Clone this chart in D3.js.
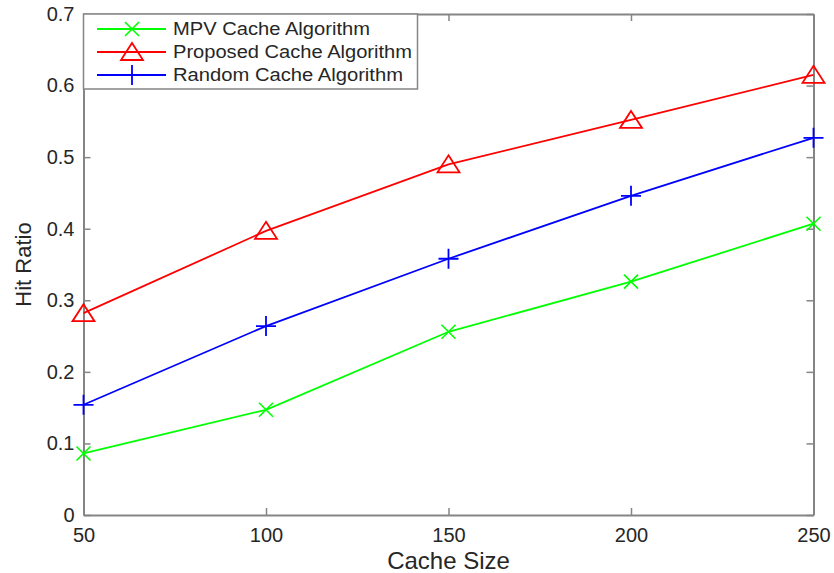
<!DOCTYPE html>
<html>
<head>
<meta charset="utf-8">
<script src="https://cdn.jsdelivr.net/npm/d3@7"></script>
<style>
  body { margin: 0; background: #fff; }
  text { font-family: "Liberation Sans", Arial, sans-serif; fill: #262626; }
</style>
</head>
<body>
<svg id="chart" width="834" height="573"></svg>
<script>
// data
var cacheSizes = [50, 100, 150, 200, 250];
var mpvHit = [0.086, 0.147, 0.256, 0.326, 0.407];
var proposedHit = [0.282, 0.397, 0.490, 0.552, 0.615];
var randomHit = [0.154, 0.264, 0.358, 0.446, 0.527];
var yTicks = [0, 0.1, 0.2, 0.3, 0.4, 0.5, 0.6, 0.7];
var seriesNames = ["MPV Cache Algorithm", "Proposed Cache Algorithm", "Random Cache Algorithm"];

var plotLeft = 83.5, plotRight = 813.5, plotTop = 14, plotBottom = 515;
var svg = d3.select("#chart");

var x = d3.scaleLinear().domain([50, 250]).range([plotLeft, plotRight]);
var y = d3.scaleLinear().domain([0, 0.7]).range([plotBottom, plotTop]);

var axisColor = "#858585";

// axes with inward ticks, mirrored on top/right
var gx = svg.append("g").attr("transform", "translate(0," + plotBottom + ")")
  .call(d3.axisBottom(x).tickValues(cacheSizes).tickSize(-7).tickSizeOuter(0));
var gxt = svg.append("g").attr("transform", "translate(0," + plotTop + ")")
  .call(d3.axisTop(x).tickValues(cacheSizes).tickSize(-7).tickFormat("").tickSizeOuter(0));
var gy = svg.append("g").attr("transform", "translate(" + plotLeft + ",0)")
  .call(d3.axisLeft(y).tickValues(yTicks).tickSize(-7).tickPadding(9).tickSizeOuter(0)
    .tickFormat(d => d === 0 ? "0" : d3.format(".1f")(d)));
var gyr = svg.append("g").attr("transform", "translate(" + plotRight + ",0)")
  .call(d3.axisRight(y).tickValues(yTicks).tickSize(-7).tickFormat("").tickSizeOuter(0));

[gx, gxt, gy, gyr].forEach(function (g) {
  g.select(".domain").attr("stroke", axisColor).attr("stroke-width", 2);
  g.selectAll(".tick line").attr("stroke", axisColor).attr("stroke-width", 1.5);
  g.selectAll(".tick text").attr("fill", "#262626")
    .style("font-family", '"Liberation Sans", Arial, sans-serif');
});
gy.selectAll(".tick text").style("font-size", "20px");
gx.selectAll(".tick text").style("font-size", "20px").attr("dy", "0.35em").attr("y", 20);

svg.append("text")
  .attr("x", (plotLeft + plotRight) / 2).attr("y", 569)
  .attr("text-anchor", "middle").style("font-size", "24px")
  .text("Cache Size");
svg.append("text")
  .attr("transform", "translate(31," + (plotTop + plotBottom) / 2 + ") rotate(-90)")
  .attr("text-anchor", "middle").style("font-size", "22px")
  .text("Hit Ratio");

var line = d3.line().x((d, i) => x(cacheSizes[i])).y(d => y(d));

function drawMarker(g, kind, cx, cy, color) {
  if (kind === "x") {
    g.append("path").attr("d", "M" + (cx - 7) + "," + (cy - 7) + "L" + (cx + 7) + "," + (cy + 7) +
      "M" + (cx - 7) + "," + (cy + 7) + "L" + (cx + 7) + "," + (cy - 7))
      .attr("stroke", color).attr("stroke-width", 1.6).attr("fill", "none");
  } else if (kind === "tri") {
    g.append("path").attr("d", "M" + cx + "," + (cy - 9) + "L" + (cx + 11) + "," + (cy + 8) +
      "L" + (cx - 11) + "," + (cy + 8) + "Z")
      .attr("stroke", color).attr("stroke-width", 1.8).attr("fill", "none");
  } else {
    g.append("path").attr("d", "M" + (cx - 10) + "," + cy + "L" + (cx + 10) + "," + cy +
      "M" + cx + "," + (cy - 10) + "L" + cx + "," + (cy + 10))
      .attr("stroke", color).attr("stroke-width", 1.8).attr("fill", "none");
  }
}

var series = [
  { name: seriesNames[0], values: mpvHit, color: "#00ff00", marker: "x" },
  { name: seriesNames[1], values: proposedHit, color: "#ff0000", marker: "tri" },
  { name: seriesNames[2], values: randomHit, color: "#0000ff", marker: "plus" }
];

series.forEach(function (s) {
  var g = svg.append("g");
  g.append("path").datum(s.values).attr("d", line)
    .attr("fill", "none").attr("stroke", s.color).attr("stroke-width", 1.8);
  s.values.forEach(function (v, i) { drawMarker(g, s.marker, x(cacheSizes[i]), y(v), s.color); });
});

// legend in the top-left corner
var lg = svg.append("g");
lg.append("rect").attr("x", plotLeft).attr("y", plotTop).attr("width", 334).attr("height", 75)
  .attr("fill", "#fff").attr("stroke", axisColor).attr("stroke-width", 1.5);
series.forEach(function (s, i) {
  var ly = 29 + i * 23;
  lg.append("line").attr("x1", 97).attr("x2", 166).attr("y1", ly).attr("y2", ly)
    .attr("stroke", s.color).attr("stroke-width", 1.8);
  drawMarker(lg, s.marker, 132, ly, s.color);
  lg.append("text").attr("x", 173).attr("y", ly).attr("dy", "0.35em")
    .style("font-size", "17.5px").attr("textLength", [197, 239, 230][i]).attr("lengthAdjust", "spacingAndGlyphs")
    .text(s.name);
});
</script>
</body>
</html>
